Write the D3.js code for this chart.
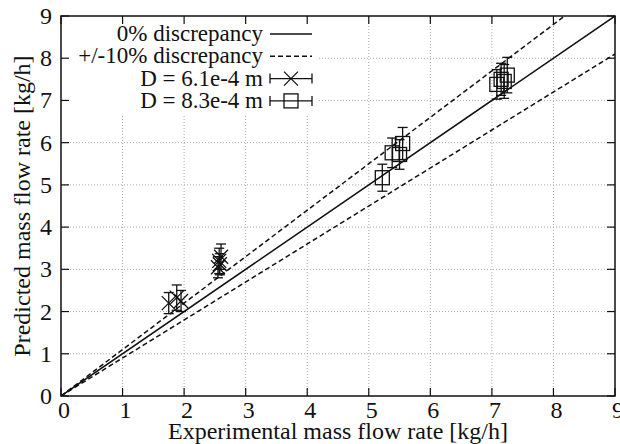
<!DOCTYPE html>
<html>
<head>
<meta charset="utf-8">
<script src="https://cdn.jsdelivr.net/npm/d3@7"></script>
<style>
  body { margin: 0; background: #fff; }
</style>
</head>
<body>
<div id="chart"></div>
<script>

// ticks on both axes
var xTicks = [0, 1, 2, 3, 4, 5, 6, 7, 8, 9];
var yTicks = [0, 1, 2, 3, 4, 5, 6, 7, 8, 9];

// discrepancy lines: slope of predicted vs experimental
var refSlopes = [1.0, 1.1, 0.9];

// D = 6.1e-4 m : experimental, predicted, error
var smallX   = [1.75, 1.88, 1.95, 2.55, 2.57, 2.58, 2.60];
var smallY   = [2.20, 2.33, 2.25, 3.05, 3.20, 3.12, 3.30];
var smallErr = [0.25, 0.30, 0.25, 0.25, 0.30, 0.25, 0.30];

// D = 8.3e-4 m
var largeX   = [5.22, 5.38, 5.50, 5.55, 7.08, 7.15, 7.20, 7.25];
var largeY   = [5.17, 5.76, 5.72, 5.98, 7.38, 7.50, 7.45, 7.60];
var largeErr = [0.32, 0.35, 0.35, 0.38, 0.35, 0.38, 0.40, 0.42];

var legendLabels = ['0% discrepancy', '+/-10% discrepancy', 'D = 6.1e-4 m', 'D = 8.3e-4 m'];

var width = 620, height = 444;
var margin = {top: 16, right: 5, bottom: 48, left: 61};
var fontSize = 24;
var serif = '"Liberation Serif", "DejaVu Serif", "Times New Roman", serif';

var svg = d3.select('#chart').append('svg')
    .attr('width', width)
    .attr('height', height)
    .attr('font-family', serif)
    .style('font-family', serif);

var x = d3.scaleLinear().domain([0, 9]).range([margin.left, width - margin.right]);
var y = d3.scaleLinear().domain([0, 9]).range([height - margin.bottom, margin.top]);

var g = svg.append('g');

// 1. grid
g.selectAll('.vgrid').data(xTicks.slice(1, -1)).enter().append('line')
    .attr('x1', function(d) { return x(d); })
    .attr('x2', function(d) { return x(d); })
    .attr('y1', y(0)).attr('y2', y(9))
    .style('stroke', '#aaa').style('stroke-width', 1).style('stroke-dasharray', '1,2');

g.selectAll('.hgrid').data(yTicks.slice(1, -1)).enter().append('line')
    .attr('y1', function(d) { return y(d); })
    .attr('y2', function(d) { return y(d); })
    .attr('x1', x(0)).attr('x2', x(9))
    .style('stroke', '#aaa').style('stroke-width', 1).style('stroke-dasharray', '1,2');

// 2. legend background hides the grid
g.append('rect')
    .attr('x', x(0) + 1).attr('y', y(9) + 1)
    .attr('width', 257).attr('height', 97)
    .style('fill', '#fff');

// 3. discrepancy lines, clipped to plot area
svg.append('clipPath').attr('id', 'plotClip').append('rect')
    .attr('x', x(0)).attr('y', y(9))
    .attr('width', x(9) - x(0)).attr('height', y(0) - y(9));

var lines = g.append('g').attr('clip-path', 'url(#plotClip)');
lines.selectAll('line').data(refSlopes).enter().append('line')
    .attr('x1', x(0)).attr('y1', y(0))
    .attr('x2', x(9)).attr('y2', function(d) { return y(9 * d); })
    .style('stroke', '#111')
    .style('stroke-width', 1.5)
    .style('stroke-dasharray', function(d, i) { return i == 0 ? null : '5,3'; });

// 4. error bars and markers
var drawErrorBar = function(sel, cx, cy, err) {
    sel.append('line')
        .attr('x1', x(cx)).attr('x2', x(cx))
        .attr('y1', y(cy - err)).attr('y2', y(cy + err));
    [cy - err, cy + err].forEach(function(v) {
        sel.append('line')
            .attr('x1', x(cx) - 5).attr('x2', x(cx) + 5)
            .attr('y1', y(v)).attr('y2', y(v));
    });
};

var drawCross = function(sel, px, py) {
    var s = 7;
    sel.append('path')
        .attr('d', 'M' + (px - s) + ',' + (py - s) + 'L' + (px + s) + ',' + (py + s) +
                   'M' + (px - s) + ',' + (py + s) + 'L' + (px + s) + ',' + (py - s));
};

var drawSquare = function(sel, px, py) {
    var s = 7;
    sel.append('rect')
        .attr('x', px - s).attr('y', py - s)
        .attr('width', 2 * s).attr('height', 2 * s)
        .style('fill', 'none');
};

var pts = g.append('g').style('stroke', '#111').style('stroke-width', 1.3).style('fill', 'none');

for (var i = 0; i < smallX.length; i++) {
    drawErrorBar(pts, smallX[i], smallY[i], smallErr[i]);
    drawCross(pts, x(smallX[i]), y(smallY[i]));
}
for (var j = 0; j < largeX.length; j++) {
    drawErrorBar(pts, largeX[j], largeY[j], largeErr[j]);
    drawSquare(pts, x(largeX[j]), y(largeY[j]));
}

// 5. frame and ticks (inside, mirrored)
g.append('rect')
    .attr('x', x(0)).attr('y', y(9))
    .attr('width', x(9) - x(0)).attr('height', y(0) - y(9))
    .style('fill', 'none').style('stroke', '#111').style('stroke-width', 1.5);

var tickLen = 8;
var ticks = g.append('g').style('stroke', '#111').style('stroke-width', 1.2);
xTicks.forEach(function(d) {
    ticks.append('line').attr('x1', x(d)).attr('x2', x(d)).attr('y1', y(0)).attr('y2', y(0) - tickLen);
    ticks.append('line').attr('x1', x(d)).attr('x2', x(d)).attr('y1', y(9)).attr('y2', y(9) + tickLen);
});
yTicks.forEach(function(d) {
    ticks.append('line').attr('y1', y(d)).attr('y2', y(d)).attr('x1', x(0)).attr('x2', x(0) + tickLen);
    ticks.append('line').attr('y1', y(d)).attr('y2', y(d)).attr('x1', x(9)).attr('x2', x(9) - tickLen);
});

// 6. tick labels
g.selectAll('.xlab').data(xTicks).enter().append('text')
    .attr('x', function(d) { return x(d) + 3; })
    .attr('y', y(0) + 22)
    .attr('text-anchor', 'middle')
    .style('font-size', fontSize + 'px')
    .style('fill', '#111')
    .text(function(d) { return d; });

g.selectAll('.ylab').data(yTicks).enter().append('text')
    .attr('x', x(0) - 9)
    .attr('y', function(d) { return y(d) + 8; })
    .attr('text-anchor', 'end')
    .style('font-size', fontSize + 'px')
    .style('fill', '#111')
    .text(function(d) { return d; });

// 7. axis titles
g.append('text')
    .attr('x', (x(0) + x(9)) / 2)
    .attr('y', 439)
    .attr('text-anchor', 'middle')
    .style('font-size', fontSize + 'px')
    .style('fill', '#111')
    .text('Experimental mass flow rate [kg/h]');

g.append('text')
    .attr('transform', 'translate(30,' + ((y(0) + y(9)) / 2) + ') rotate(-90)')
    .attr('text-anchor', 'middle')
    .style('font-size', fontSize + 'px')
    .style('fill', '#111')
    .text('Predicted mass flow rate [kg/h]');

// 8. legend
var legend = g.append('g');
var rowY = function(i) { return 34 + i * 22.3; };
var sampleX0 = 270, sampleX1 = 312;

legend.selectAll('text').data(legendLabels).enter().append('text')
    .attr('x', 263)
    .attr('y', function(d, i) { return rowY(i) + 7; })
    .attr('text-anchor', 'end')
    .style('font-size', (fontSize - 1) + 'px')
    .style('fill', '#111')
    .text(function(d) { return d; });

var ls = legend.append('g').style('stroke', '#111').style('stroke-width', 1.3).style('fill', 'none');
[0, 1].forEach(function(i) {
    ls.append('line')
        .attr('x1', sampleX0).attr('x2', sampleX1)
        .attr('y1', rowY(i)).attr('y2', rowY(i))
        .style('stroke-width', 1.5)
        .style('stroke-dasharray', i == 0 ? null : '5,3');
});
[2, 3].forEach(function(i) {
    var cy = rowY(i);
    ls.append('line').attr('x1', sampleX0).attr('x2', sampleX1).attr('y1', cy).attr('y2', cy);
    ls.append('line').attr('x1', sampleX0).attr('x2', sampleX0).attr('y1', cy - 5).attr('y2', cy + 5);
    ls.append('line').attr('x1', sampleX1).attr('x2', sampleX1).attr('y1', cy - 5).attr('y2', cy + 5);
    if (i == 2) drawCross(ls, (sampleX0 + sampleX1) / 2, cy);
    else drawSquare(ls, (sampleX0 + sampleX1) / 2, cy);
});

</script>
</body>
</html>
